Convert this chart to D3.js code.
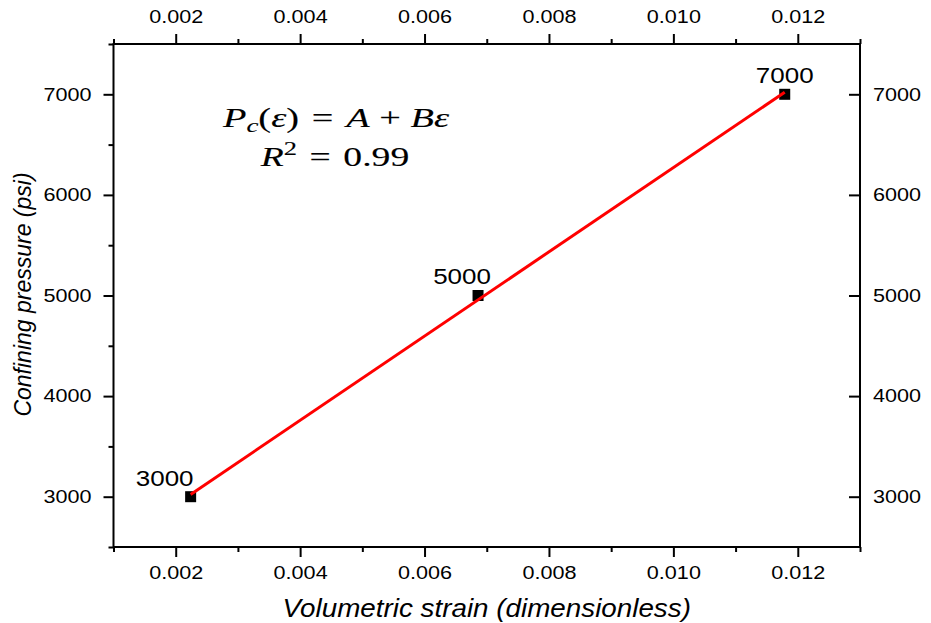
<!DOCTYPE html>
<html>
<head>
<meta charset="utf-8">
<script src="https://cdn.jsdelivr.net/npm/d3@7"></script>
<style>
  html, body { margin: 0; padding: 0; background: #fff; }
  svg { display: block; }
  .axis text { font-family: "Liberation Sans", Arial, sans-serif; font-size: 18px; fill: #000; }
  .axis line { stroke: #000; stroke-width: 2; }
  .axis path { display: none; }
</style>
</head>
<body>
<svg id="chart" width="931" height="623"></svg>
<script>
// Volumetric strain at each confining pressure
const strain = [0.00224, 0.00686, 0.01179];
const pressure = [3000, 5000, 7000];
const pointLabels = ["3000", "5000", "7000"];
const labelShift = [-26, -16, 0];

// Axis ticks
const xMajorTicks = [0.002, 0.004, 0.006, 0.008, 0.010, 0.012];
const xMinorTicks = [0.001, 0.003, 0.005, 0.007, 0.009, 0.011, 0.013];
const yMajorTicks = [3000, 4000, 5000, 6000, 7000];
const yMinorTicks = [2500, 3500, 4500, 5500, 6500, 7500];

const xTitle = "Volumetric strain (dimensionless)";
const yTitle = "Confining pressure (psi)";

const svg = d3.select("#chart");
const plotLeft = 113.5, plotRight = 860, plotTop = 44, plotBottom = 547;

const x = d3.scaleLinear().domain([0.001, 0.013]).range([plotLeft, plotRight]);
const y = d3.scaleLinear().domain([2500, 7500]).range([plotBottom, plotTop]);
const fmtX = d3.format(".3f");

// widen text horizontally around its anchor point
function stretchX(sel, k) {
  sel.each(function () {
    const t = d3.select(this);
    const x0 = +t.attr("x") || 0;
    t.attr("transform", `translate(${x0},0) scale(${k},1) translate(${-x0},0)`);
  });
}

// minor ticks (no labels)
svg.append("g").attr("class", "axis").attr("transform", `translate(0,${plotBottom})`)
  .call(d3.axisBottom(x).tickValues(xMinorTicks).tickSize(5).tickFormat(""));
svg.append("g").attr("class", "axis").attr("transform", `translate(0,${plotTop})`)
  .call(d3.axisTop(x).tickValues(xMinorTicks).tickSize(5).tickFormat(""));
svg.append("g").attr("class", "axis").attr("transform", `translate(${plotLeft},0)`)
  .call(d3.axisLeft(y).tickValues(yMinorTicks).tickSize(5).tickFormat(""));

// major ticks
const gBottom = svg.append("g").attr("class", "axis").attr("transform", `translate(0,${plotBottom})`)
  .call(d3.axisBottom(x).tickValues(xMajorTicks).tickSize(10).tickPadding(9).tickFormat(fmtX));
const gTop = svg.append("g").attr("class", "axis").attr("transform", `translate(0,${plotTop})`)
  .call(d3.axisTop(x).tickValues(xMajorTicks).tickSize(10).tickPadding(11).tickFormat(fmtX));
const gLeft = svg.append("g").attr("class", "axis").attr("transform", `translate(${plotLeft},0)`)
  .call(d3.axisLeft(y).tickValues(yMajorTicks).tickSize(10).tickPadding(12).tickFormat(d3.format("d")));
const gRight = svg.append("g").attr("class", "axis").attr("transform", `translate(${plotRight},0)`)
  .call(d3.axisRight(y).tickValues(yMajorTicks).tickSize(-11).tickPadding(13).tickFormat(d3.format("d")));

[gBottom, gTop, gLeft, gRight].forEach(g => stretchX(g.selectAll("text"), 1.2));

// plot frame
svg.append("rect")
  .attr("x", plotLeft).attr("y", plotTop)
  .attr("width", plotRight - plotLeft).attr("height", plotBottom - plotTop)
  .attr("fill", "none").attr("stroke", "#000").attr("stroke-width", 2);

// least-squares line through the points
const mx = d3.mean(strain), my = d3.mean(pressure);
const sxy = d3.sum(strain, (s, i) => (s - mx) * (pressure[i] - my));
const sxx = d3.sum(strain, s => (s - mx) * (s - mx));
const slope = sxy / sxx, intercept = my - slope * mx;
const fitX = d3.extent(strain);

// markers
svg.append("g").selectAll("rect")
  .data(strain)
  .join("rect")
  .attr("x", (d) => x(d) - 5.5)
  .attr("y", (d, i) => y(pressure[i]) - 5.5)
  .attr("width", 11).attr("height", 11)
  .attr("fill", "#000");

svg.append("path")
  .datum(fitX)
  .attr("d", d3.line().x(d => x(d)).y(d => y(intercept + slope * d)))
  .attr("fill", "none").attr("stroke", "#ff0000").attr("stroke-width", 3);

// value labels
const lbl = svg.append("g").selectAll("text")
  .data(strain)
  .join("text")
  .attr("x", (d, i) => x(d) + labelShift[i])
  .attr("y", (d, i) => y(pressure[i]) - 11)
  .attr("text-anchor", "middle")
  .attr("font-family", "Liberation Sans, Arial, sans-serif")
  .attr("font-size", 22)
  .attr("fill", "#000")
  .text((d, i) => pointLabels[i]);
stretchX(lbl, 1.18);

// axis titles
const xt = svg.append("text")
  .attr("x", (plotLeft + plotRight) / 2).attr("y", 617)
  .attr("text-anchor", "middle")
  .attr("font-family", "Liberation Sans, Arial, sans-serif")
  .attr("font-style", "italic").attr("font-size", 26)
  .text(xTitle);
stretchX(xt, 1.07);

svg.append("text")
  .attr("transform", `translate(31,${(172 + 417) / 2}) rotate(-90)`)
  .attr("text-anchor", "middle")
  .attr("font-family", "Liberation Sans, Arial, sans-serif")
  .attr("font-style", "italic").attr("font-size", 23)
  .text(yTitle);

// fit formula
const eq = svg.append("g")
  .attr("font-family", "Liberation Serif, 'Times New Roman', serif")
  .attr("font-size", 27)
  .attr("fill", "#000").attr("stroke", "#000").attr("stroke-width", 0.12);
const l1 = eq.append("text").attr("x", 336).attr("y", 127).attr("text-anchor", "middle");
l1.append("tspan").attr("font-style", "italic").text("P");
l1.append("tspan").attr("font-style", "italic").attr("font-size", 19).attr("dy", 5).text("c");
l1.append("tspan").attr("dy", -5).text("(");
l1.append("tspan").attr("font-style", "italic").text("\u03b5");
l1.append("tspan").text(")\u2004=\u2004");
l1.append("tspan").attr("font-style", "italic").text("A");
l1.append("tspan").text("\u2005+\u2005");
l1.append("tspan").attr("font-style", "italic").text("B\u03b5");

const l2 = eq.append("text").attr("x", 335).attr("y", 166).attr("text-anchor", "middle");
l2.append("tspan").attr("font-style", "italic").text("R");
l2.append("tspan").attr("font-size", 19).attr("dy", -11).text("2");
l2.append("tspan").attr("dy", 11).text("\u2004=\u20040.99");

// widen each formula line to its box
[[l1, 228], [l2, 150]].forEach(([t, w]) => {
  const bw = t.node().getBBox().width;
  stretchX(t, w / bw);
});
</script>
</body>
</html>
